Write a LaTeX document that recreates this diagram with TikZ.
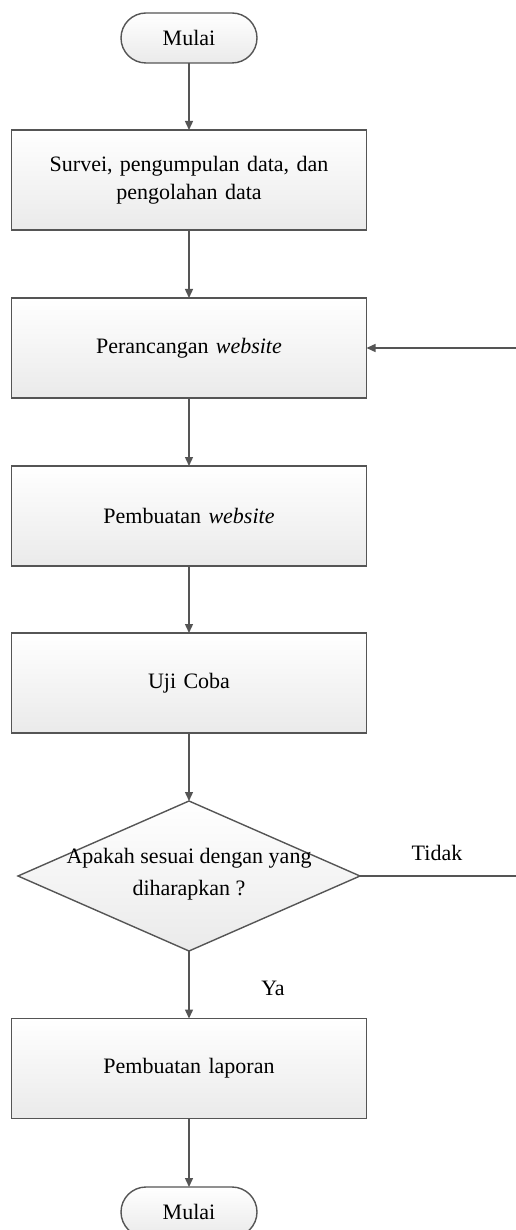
\documentclass[tikz,border=0pt]{standalone}
\usepackage{fontspec}
\setmainfont{Liberation Serif}
\usetikzlibrary{arrows.meta,shapes.geometric,positioning}
\definecolor{edge}{HTML}{555555}
\definecolor{fillbot}{HTML}{EAEAEA}
\begin{document}
\begin{tikzpicture}[x=1pt,y=-1pt,
  every node/.style={inner sep=0pt,outer sep=0pt,font=\fontsize{22}{28}\selectfont},
  procbox/.style={draw=edge,line width=1.4pt,top color=white,bottom color=fillbot,
     minimum width=355pt,minimum height=100pt,align=center,text width=335pt},
  term/.style={draw=edge,line width=1.4pt,top color=white,bottom color=fillbot,
     rounded corners=25pt,minimum width=136pt,minimum height=50pt},
  decshape/.style={draw=edge,line width=1.4pt,top color=white,bottom color=fillbot,
     diamond,minimum width=342pt,minimum height=150pt},
  flow/.style={draw=edge,line width=1.4pt,-{Triangle[length=9pt,width=8pt]}},
  lbl/.style={font=\fontsize{22}{26}\selectfont}
]
\useasboundingbox (0,0) rectangle (515,1230);
\node[term] (start) at (189,38) {Mulai};
\node[procbox] (b1) at (189,180) {Survei, pengumpulan data, dan\\pengolahan data};
\node[procbox] (b2) at (189,348) {Perancangan \textit{website}};
\node[procbox] (b3) at (189,516) {Pembuatan \textit{website}};
\node[procbox] (b4) at (189,683) {Uji Coba};
\node[decshape] (d) at (189,876) {};
\node[align=center,font=\fontsize{22}{32}\selectfont] (dt) at (189,874) {Apakah sesuai dengan yang\\diharapkan ?};
\node[procbox] (b5) at (189,1068.5) {Pembuatan laporan};
\node[term] (end) at (189,1212) {Mulai};
\node[lbl] (tidak) at (437,853) {Tidak};
\node[lbl] (ya) at (273,988) {Ya};
\coordinate (loop) at (522,876);

\draw[flow] (start) -- (b1);
\draw[flow] (b1) -- (b2);
\draw[flow] (b2) -- (b3);
\draw[flow] (b3) -- (b4);
\draw[flow] (b4) -- (d);
\draw[flow] (d) -- (b5);
\draw[flow] (b5) -- (end);
\draw[flow] (d.east) -- (loop) |- (b2.east);
\end{tikzpicture}
\end{document}
